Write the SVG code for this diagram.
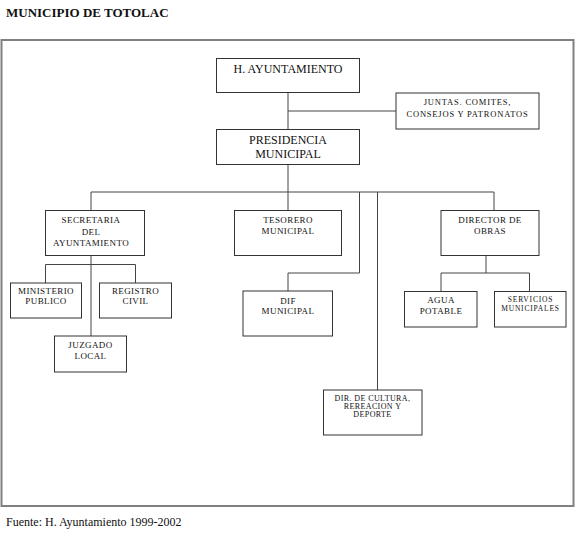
<svg xmlns="http://www.w3.org/2000/svg" width="576" height="540" viewBox="0 0 576 540">
<style>
.box{fill:#fff;stroke:#333;stroke-width:1}
.ln{fill:none;stroke:#444;stroke-width:1}
text{font-family:"Liberation Serif","Times New Roman",serif;fill:#111;text-anchor:middle}
.t12{font-size:12px}
.t9{font-size:9px;letter-spacing:0.4px}
.t8{font-size:8px;letter-spacing:0.4px}
.tj{font-size:8.5px;letter-spacing:0.8px}
.t7{font-size:7.5px;letter-spacing:0.8px}
</style>
<rect width="576" height="540" fill="#fff"/>
<text x="6" y="17" style="text-anchor:start;font-size:13px;font-weight:bold">MUNICIPIO DE TOTOLAC</text>
<rect x="1.5" y="40" width="572" height="466" fill="none" stroke="#808080" stroke-width="2"/>
<g id="connectors">
<path class="ln" d="M288 92.5V129.5M288 111H396"/>
<path class="ln" d="M288 164.5V210M91 192H494M91 192V210M494 192V210"/>
<path class="ln" d="M359.5 192V273H288V291"/>
<path class="ln" d="M377.5 192V390"/>
<path class="ln" d="M91 255.5V336M45.5 264.5H135.5M45.5 264.5V283M135.5 264.5V283"/>
<path class="ln" d="M486 255.5V273M441 273H529.5M441 273V291.5M529.5 273V291.5"/>
</g>
<g id="ayuntamiento"><rect class="box" x="216.5" y="58.5" width="143" height="34"/><text class="t12" x="288" y="73">H. AYUNTAMIENTO</text></g>
<g id="juntas"><rect class="box" x="396" y="93" width="143" height="36"/><text class="tj" x="467.5" y="105">JUNTAS. COMITES,</text><text class="tj" x="467.5" y="117">CONSEJOS Y PATRONATOS</text></g>
<g id="presidencia"><rect class="box" x="216.5" y="129.5" width="143" height="35"/><text class="t12" x="288" y="144">PRESIDENCIA</text><text class="t12" x="288" y="158">MUNICIPAL</text></g>
<g id="secretaria"><rect class="box" x="45.5" y="210.5" width="99" height="45"/><text class="t9" x="91" y="223">SECRETARIA</text><text class="t9" x="91" y="235">DEL</text><text class="t9" x="91" y="246">AYUNTAMIENTO</text></g>
<g id="tesorero"><rect class="box" x="234.5" y="210.5" width="107" height="45"/><text class="t9" x="288" y="223">TESORERO</text><text class="t9" x="288" y="234">MUNICIPAL</text></g>
<g id="director"><rect class="box" x="441" y="210.5" width="98" height="45"/><text class="t9" x="490" y="223">DIRECTOR DE</text><text class="t9" x="490" y="234">OBRAS</text></g>
<g id="ministerio"><rect class="box" x="10.5" y="283" width="71" height="35"/><text class="t9" x="46" y="294">MINISTERIO</text><text class="t9" x="46" y="304">PUBLICO</text></g>
<g id="registro"><rect class="box" x="99.5" y="283" width="72" height="35"/><text class="t9" x="135.5" y="294">REGISTRO</text><text class="t9" x="135.5" y="304">CIVIL</text></g>
<g id="juzgado"><rect class="box" x="54.5" y="336" width="72" height="36"/><text class="t9" x="90.5" y="347.5">JUZGADO</text><text class="t9" x="90.5" y="358.5">LOCAL</text></g>
<g id="dif"><rect class="box" x="243" y="291" width="89.5" height="45"/><text class="t9" x="288" y="304">DIF</text><text class="t9" x="288" y="313.5">MUNICIPAL</text></g>
<g id="agua"><rect class="box" x="404.5" y="291.5" width="72.5" height="35.5"/><text class="t9" x="441" y="302.5">AGUA</text><text class="t9" x="441" y="313.5">POTABLE</text></g>
<g id="servicios"><rect class="box" x="494.5" y="291.5" width="71.5" height="35.5"/><text class="t7" x="530.5" y="302">SERVICIOS</text><text class="t7" x="530.5" y="310.5">MUNICIPALES</text></g>
<g id="cultura"><rect class="box" x="323.5" y="390" width="98.5" height="45"/><text class="t8" x="372.5" y="401">DIR. DE CULTURA,</text><text class="t8" x="372.5" y="409">REREACION Y</text><text class="t8" x="372.5" y="417">DEPORTE</text></g>
<text x="6" y="526" style="text-anchor:start;font-size:12px">Fuente: H. Ayuntamiento 1999-2002</text>
</svg>
